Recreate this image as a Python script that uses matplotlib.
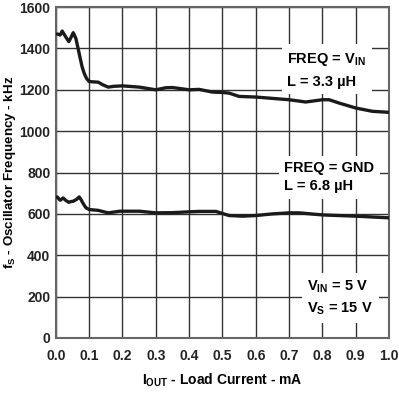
import matplotlib
matplotlib.use("Agg")
import matplotlib.pyplot as plt

plt.rcParams['font.family'] = ['Liberation Sans', 'DejaVu Sans']
plt.rcParams['font.weight'] = 'bold'
plt.rcParams['mathtext.default'] = 'regular'

# FREQ = VIN, L = 3.3 uH
x_vin = [0.004, 0.013, 0.019, 0.03, 0.039, 0.046, 0.052, 0.06, 0.066, 0.072, 0.079,
         0.085, 0.092, 0.1, 0.115, 0.127, 0.14, 0.157, 0.175, 0.2, 0.25, 0.3, 0.33,
         0.35, 0.4, 0.43, 0.47, 0.5, 0.52, 0.55, 0.6, 0.7, 0.75, 0.8, 0.82, 0.85,
         0.9, 0.95, 1.0]
f_vin = [1470, 1465, 1484, 1455, 1433, 1455, 1476, 1449, 1405, 1360, 1310,
         1280, 1255, 1240, 1238, 1237, 1225, 1213, 1217, 1219, 1213, 1200, 1210,
         1211, 1200, 1202, 1189, 1187, 1184, 1168, 1165, 1152, 1141, 1152, 1152, 1136,
         1112, 1096, 1091]

# FREQ = GND, L = 6.8 uH
x_gnd = [0.004, 0.013, 0.022, 0.03, 0.039, 0.046, 0.052, 0.062, 0.07, 0.076, 0.082,
         0.09, 0.1, 0.127, 0.157, 0.192, 0.25, 0.3, 0.35, 0.4, 0.43, 0.48, 0.52,
         0.56, 0.6, 0.65, 0.7, 0.73, 0.8, 0.9, 1.0]
f_gnd = [682, 666, 677, 665, 656, 660, 661, 670, 682, 668, 650,
         630, 621, 617, 605, 613, 613, 605, 606, 610, 612, 612, 592,
         589, 592, 600, 605, 605, 595, 589, 581]

xticks = [0.0, 0.1, 0.2, 0.3, 0.4, 0.5, 0.6, 0.7, 0.8, 0.9, 1.0]
yticks = [0, 200, 400, 600, 800, 1000, 1200, 1400, 1600]

fig = plt.figure(figsize=(3.99, 3.93), dpi=100)
ax = fig.add_axes([0.140, 0.140, 0.835, 0.842])

ax.plot(x_vin, f_vin, color='#1a1a1a', lw=2.4, solid_capstyle='round', zorder=3)
ax.plot(x_gnd, f_gnd, color='#1a1a1a', lw=2.4, solid_capstyle='round', zorder=3)

ax.set_xlim(0, 1.0)
ax.set_ylim(0, 1600)
ax.set_xticks(xticks)
ax.set_xticklabels(['%.1f' % v for v in xticks])
ax.set_yticks(yticks)
ax.grid(True, color='#333333', lw=1.0)
ax.tick_params(length=0, labelsize=10, colors='#222222')
ax.tick_params(axis='x', pad=8)
ax.tick_params(axis='y', pad=4)
for s in ax.spines.values():
    s.set_color('#666666')
    s.set_linewidth(1.5)

ax.set_xlabel('I$_{OUT}$ - Load Current - mA', fontsize=10, fontweight='bold', labelpad=6)
ax.set_ylabel('f$_S$ - Oscillator Frequency - kHz', fontsize=9.6, fontweight='bold', labelpad=1)

box = dict(facecolor='white', edgecolor='none', pad=4)
ax.text(0.695, 1205, 'FREQ = V$_{IN}$\nL = 3.3 µH', fontsize=10.5, ha='left', va='bottom',
        linespacing=1.6, bbox=box, zorder=2)
ax.text(0.685, 700, 'FREQ = GND\nL = 6.8 µH', fontsize=10.5, ha='left', va='bottom',
        linespacing=1.35, bbox=box, zorder=2)
ax.text(0.755, 100, 'V$_{IN}$ = 5 V\nV$_S$ = 15 V', fontsize=10.5, ha='left', va='bottom',
        linespacing=1.5, bbox=box, zorder=2)

fig.savefig('out.png', dpi=100)
